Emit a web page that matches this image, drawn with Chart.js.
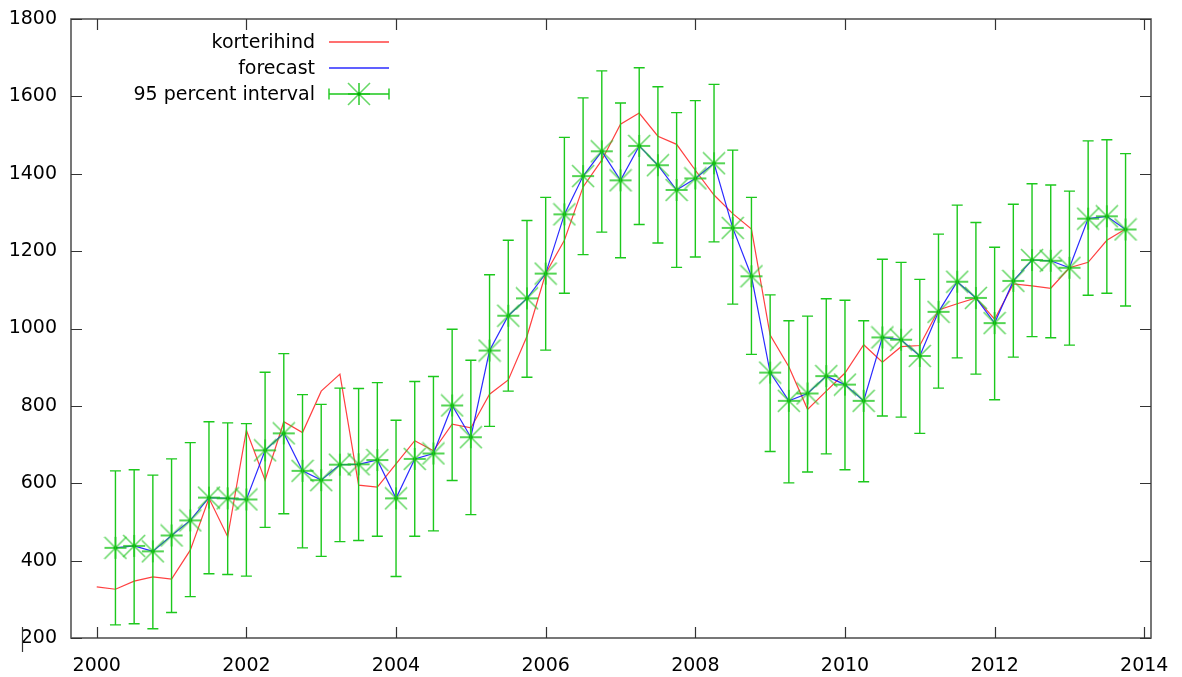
<!DOCTYPE html>
<html>
<head>
<meta charset="utf-8">
<script src="https://cdn.jsdelivr.net/npm/chart.js@4/dist/chart.umd.min.js"></script>
<style>
body{margin:0;background:#fff}
#wrap{width:1182px;height:677px;position:relative}
</style>
</head>
<body>
<div id="wrap"><canvas id="graph"></canvas></div>
<script>
// kvartalid 2000 I .. 2013 IV
let kvartalid = [
  2000, 2000.25, 2000.5, 2000.75, 2001, 2001.25, 2001.5, 2001.75,
  2002, 2002.25, 2002.5, 2002.75, 2003, 2003.25, 2003.5, 2003.75,
  2004, 2004.25, 2004.5, 2004.75, 2005, 2005.25, 2005.5, 2005.75,
  2006, 2006.25, 2006.5, 2006.75, 2007, 2007.25, 2007.5, 2007.75,
  2008, 2008.25, 2008.5, 2008.75, 2009, 2009.25, 2009.5, 2009.75,
  2010, 2010.25, 2010.5, 2010.75, 2011, 2011.25, 2011.5, 2011.75,
  2012, 2012.25, 2012.5, 2012.75, 2013, 2013.25, 2013.5, 2013.75
];

let korterihind = [
  332, 326, 347, 358, 352, 427, 561, 462,
  737, 608, 759, 731, 838, 882, 595, 590,
  650, 710, 684, 753, 743, 830, 867, 980,
  1142, 1228, 1366, 1435, 1528, 1557, 1497, 1476,
  1409, 1345, 1297, 1257, 983, 901, 791, 838,
  885, 958, 913, 953, 956, 1048, 1064, 1079,
  1024, 1115, 1110, 1104, 1157, 1171, 1228, 1257
];

// prognoos algab 2000.25 pealt
let prognoosiKvartalid = kvartalid.slice(1);

let prognoos = [
  433, 438, 424, 465, 504, 563, 561,
  558, 685, 729, 632, 608, 648, 649, 660,
  561, 663, 677, 801, 719, 943, 1033, 1078,
  1142, 1295, 1394, 1458, 1383, 1472, 1422, 1358,
  1388, 1427, 1260, 1135, 886, 813, 832, 877,
  855, 813, 977, 971, 929, 1043, 1121, 1079,
  1014, 1123, 1177, 1175, 1157, 1284, 1290, 1256
];

let ylemine = [
  632, 635, 621, 663, 705, 759, 756,
  754, 887, 935, 829, 804, 846, 845, 860,
  763, 863, 876, 998, 918, 1139, 1228, 1279,
  1339, 1494, 1596, 1666, 1583, 1674, 1625, 1558,
  1589, 1631, 1461, 1339, 1087, 1020, 1032, 1077,
  1073, 1020, 1179, 1171, 1127, 1244, 1319, 1274,
  1210, 1321, 1374, 1371, 1355, 1485, 1488, 1452
];

let alumine = [
  234, 237, 224, 266, 307, 366, 364,
  360, 486, 521, 433, 411, 449, 452, 463,
  359, 463, 477, 607, 519, 747, 838, 874,
  944, 1091, 1191, 1249, 1183, 1269, 1221, 1158,
  1185, 1224, 1063, 933, 682, 601, 629, 676,
  635, 604, 774, 771, 729, 846, 924, 882,
  816, 926, 979, 976, 957, 1086, 1091, 1058
];

let xTicks = [2000, 2002, 2004, 2006, 2008, 2010, 2012, 2014];
let yTicks = [200, 400, 600, 800, 1000, 1200, 1400, 1600, 1800];

let legendNimed = ['korterihind', 'forecast', '95 percent interval'];

let punane = 'rgba(255,30,30,0.85)';
let sinine = 'rgba(20,20,255,0.9)';
let roheline = '#1cc81c';
let roheHele = 'rgba(40,200,40,0.7)';
let kiri = '19px "DejaVu Sans"';

// gnuplot stiilis tarn (+ ja x koos)
function teeTarn(s) {
  let c = document.createElement('canvas');
  c.width = 2 * s + 2;
  c.height = 2 * s + 2;
  let g = c.getContext('2d');
  let m = s + 1;
  g.strokeStyle = roheHele;
  g.lineWidth = 1.6;
  g.beginPath();
  g.moveTo(m - s, m - s); g.lineTo(m + s, m + s);
  g.moveTo(m - s, m + s); g.lineTo(m + s, m - s);
  g.stroke();
  g.strokeStyle = roheline;
  g.lineWidth = 1.4;
  g.beginPath();
  g.moveTo(m - s, m); g.lineTo(m + s, m);
  g.moveTo(m, m - s); g.lineTo(m, m + s);
  g.stroke();
  g.fillStyle = '#00b000';
  g.beginPath();
  g.arc(m, m, 1.8, 0, Math.PI * 2);
  g.fill();
  return c;
}
let tarn = teeTarn(11);

function punktid(xs, ys) {
  return xs.map((x, i) => ({ x: x, y: ys[i] }));
}

const raamPlugin = {
  id: 'raam',
  afterDatasetsDraw(chart) {
    let ctx = chart.ctx;
    let xs = chart.scales.x;
    let ys = chart.scales.y;
    // veapiirid
    ctx.save();
    ctx.strokeStyle = roheline;
    ctx.lineWidth = 1.4;
    prognoosiKvartalid.forEach((k, i) => {
      let px = xs.getPixelForValue(k);
      let p1 = ys.getPixelForValue(alumine[i]);
      let p2 = ys.getPixelForValue(ylemine[i]);
      ctx.beginPath();
      ctx.moveTo(px, p1); ctx.lineTo(px, p2);
      ctx.moveTo(px - 5.5, p1); ctx.lineTo(px + 5.5, p1);
      ctx.moveTo(px - 5.5, p2); ctx.lineTo(px + 5.5, p2);
      ctx.stroke();
    });
    ctx.restore();
  },
  afterDraw(chart) {
    let ctx = chart.ctx;
    let a = chart.chartArea;
    let xs = chart.scales.x;
    let ys = chart.scales.y;
    ctx.save();
    // raam
    ctx.strokeStyle = '#555';
    ctx.lineWidth = 1.6;
    ctx.strokeRect(a.left, a.top, a.right - a.left, a.bottom - a.top);
    // sissepoole tikid
    ctx.strokeStyle = '#333';
    ctx.lineWidth = 1.2;
    ctx.beginPath();
    yTicks.forEach(v => {
      let py = Math.round(ys.getPixelForValue(v)) + 0.5;
      ctx.moveTo(a.left, py); ctx.lineTo(a.left + 11, py);
      ctx.moveTo(a.right, py); ctx.lineTo(a.right - 11, py);
    });
    xTicks.forEach(v => {
      let px = Math.round(xs.getPixelForValue(v)) + 0.5;
      ctx.moveTo(px, a.bottom); ctx.lineTo(px, a.bottom - 11);
      ctx.moveTo(px, a.top); ctx.lineTo(px, a.top + 11);
    });
    // väike kriips 200 sildi ees nagu originaalis
    let p200 = ys.getPixelForValue(200);
    ctx.moveTo(22.5, p200 - 11); ctx.lineTo(22.5, p200 + 14);
    ctx.stroke();

    // legend paremale joondatud tekstiga
    ctx.font = kiri;
    ctx.fillStyle = '#000';
    ctx.textAlign = 'right';
    ctx.textBaseline = 'middle';
    let tx = 315, l1 = 329, l2 = 389;
    let read = [42, 68, 94];
    legendNimed.forEach((n, i) => ctx.fillText(n, tx, read[i] + 1));
    ctx.lineWidth = 1.3;
    ctx.strokeStyle = punane;
    ctx.beginPath(); ctx.moveTo(l1, read[0]); ctx.lineTo(l2, read[0]); ctx.stroke();
    ctx.strokeStyle = sinine;
    ctx.beginPath(); ctx.moveTo(l1, read[1]); ctx.lineTo(l2, read[1]); ctx.stroke();
    ctx.strokeStyle = roheline;
    ctx.lineWidth = 1.4;
    ctx.beginPath();
    ctx.moveTo(l1, read[2]); ctx.lineTo(l2, read[2]);
    ctx.moveTo(l1, read[2] - 5.5); ctx.lineTo(l1, read[2] + 5.5);
    ctx.moveTo(l2, read[2] - 5.5); ctx.lineTo(l2, read[2] + 5.5);
    ctx.stroke();
    ctx.drawImage(tarn, (l1 + l2) / 2 - tarn.width / 2, read[2] - tarn.height / 2);
    ctx.restore();
  }
};

var ctx = document.getElementById('graph');

const config = {
  type: 'scatter',
  data: {
    datasets: [
      {
        label: legendNimed[0],
        data: punktid(kvartalid, korterihind),
        showLine: true,
        borderColor: punane,
        borderWidth: 1.2,
        pointRadius: 0,
        tension: 0,
        order: 3
      },
      {
        label: legendNimed[1],
        data: punktid(prognoosiKvartalid, prognoos),
        showLine: true,
        borderColor: sinine,
        borderWidth: 1.2,
        pointRadius: 0,
        tension: 0,
        order: 2
      },
      {
        label: legendNimed[2],
        data: punktid(prognoosiKvartalid, prognoos),
        showLine: false,
        pointStyle: tarn,
        pointRadius: 11,
        order: 1
      }
    ]
  },
  options: {
    responsive: true,
    maintainAspectRatio: false,
    animation: false,
    layout: { padding: { top: 19, right: 31, left: 0, bottom: 0 } },
    plugins: {
      legend: { display: false },
      tooltip: { enabled: false }
    },
    scales: {
      x: {
        type: 'linear',
        min: 1999.656,
        max: 2014.09,
        grid: { display: false, drawTicks: false },
        border: { display: false },
        afterBuildTicks: s => { s.ticks = xTicks.map(v => ({ value: v })); },
        afterFit: s => { s.height = 39; s.paddingLeft = 0; s.paddingRight = 0; },
        ticks: {
          padding: 17,
          maxRotation: 0,
          autoSkip: false,
          color: '#000',
          font: { family: 'DejaVu Sans', size: 19 },
          callback: v => String(v)
        }
      },
      y: {
        min: 200,
        max: 1800,
        grid: { display: false, drawTicks: false },
        border: { display: false },
        afterBuildTicks: s => { s.ticks = yTicks.map(v => ({ value: v })); },
        afterFit: s => { s.width = 71; s.paddingTop = 0; s.paddingBottom = 0; },
        ticks: {
          padding: 14,
          color: '#000',
          font: { family: 'DejaVu Sans', size: 19 },
          callback: v => String(v)
        }
      }
    }
  },
  plugins: [raamPlugin]
};

var myChart = new Chart(ctx, config);
</script>
</body>
</html>
